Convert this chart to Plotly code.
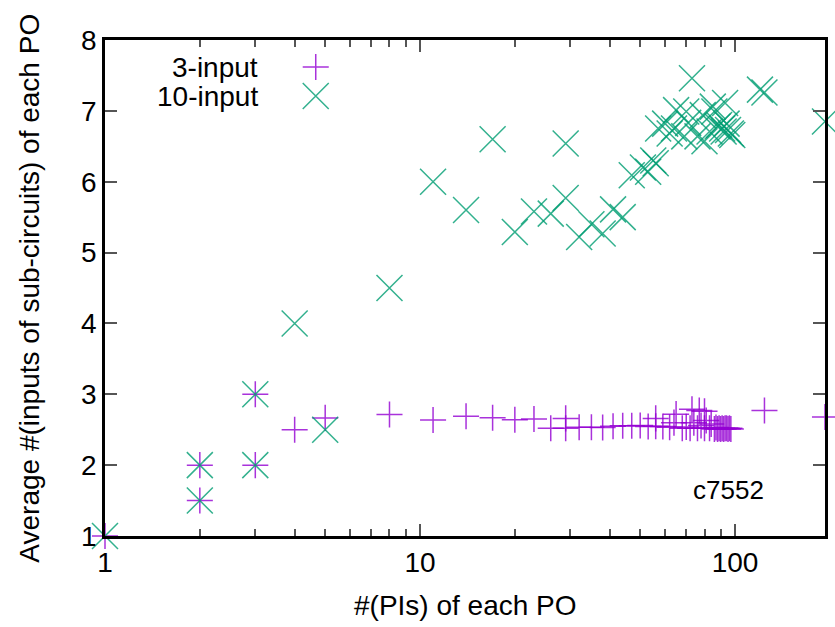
import plotly.graph_objects as go

# c7552: average number of sub-circuit inputs per primary output,
# against the number of primary inputs feeding that output
pi_3 = [1, 2, 2, 3, 3, 4, 5, 8, 11, 14, 17, 20, 23, 26, 29, 29, 32, 35, 38, 41,
        44, 47, 50, 53, 56, 56, 59, 62, 64, 65, 68, 70, 72, 73, 74, 76, 77, 78,
        80, 80, 81, 83, 84, 86, 87, 88, 89, 90, 91, 92, 93, 94, 95, 96, 97, 124, 193]
avg_3 = [1.0, 2.0, 1.5, 3.0, 2.0, 2.5, 2.667, 2.714, 2.636, 2.69, 2.67, 2.64, 2.65,
         2.52, 2.66, 2.52, 2.535, 2.535, 2.53, 2.55, 2.555, 2.555, 2.56, 2.545,
         2.66, 2.55, 2.545, 2.535, 2.6, 2.72, 2.52, 2.54, 2.52, 2.79, 2.6, 2.52,
         2.77, 2.56, 2.76, 2.52, 2.63, 2.52, 2.58, 2.51, 2.53, 2.51, 2.52, 2.51,
         2.52, 2.51, 2.52, 2.52, 2.51, 2.52, 2.51, 2.77, 2.68]

pi_10 = [1, 2, 2, 3, 3, 4, 5, 8, 11, 14, 17, 20, 23, 26, 29, 29, 32, 35, 38, 41,
         44, 47, 51, 53, 55, 56, 57, 60, 62, 64, 65, 69, 70, 71, 73, 76, 79, 80,
         83, 85, 86, 88, 89, 91, 92, 93, 94, 95, 97, 98, 120, 124, 193]
avg_10 = [1.0, 2.0, 1.5, 3.0, 2.0, 4.0, 2.5, 4.5, 6.0, 5.6, 6.6, 5.29, 5.58, 5.55,
          6.54, 5.77, 5.22, 5.4, 5.27, 5.61, 5.5, 6.09, 6.2, 6.14, 6.3, 6.26,
          6.75, 6.82, 6.68, 6.75, 7.01, 6.64, 6.99, 6.83, 7.46, 6.64, 6.94, 6.57,
          6.71, 7.06, 6.99, 6.78, 6.8, 6.75, 6.71, 7.11, 6.82, 6.73, 6.68, 6.66,
          7.3, 7.26, 6.85]

series_names = ["3-input", "10-input"]
purple = "#9400d3"
green = "#009e73"
font_family = "Liberation Sans, Arial, sans-serif"
# plotly draws cross-thin larger than x-thin at equal size, so the two
# symbols get separate sizes to come out the same width on screen
plus_size = 18.6
x_size = 26
mk_width = 1.5

fig = go.Figure()
fig.add_trace(go.Scatter(
    x=pi_3, y=avg_3, mode="markers", name=series_names[0], showlegend=False,
    cliponaxis=False,
    marker=dict(symbol="cross-thin", size=plus_size, opacity=0.8,
                line=dict(color=purple, width=mk_width)),
))
fig.add_trace(go.Scatter(
    x=pi_10, y=avg_10, mode="markers", name=series_names[1], showlegend=False,
    cliponaxis=False,
    marker=dict(symbol="x-thin", size=x_size, opacity=0.8,
                line=dict(color=green, width=mk_width)),
))

# key entries: label on the left, sample symbol on the right
key_rows = [0.9455, 0.887]
key_symbols = ["cross-thin", "x-thin"]
key_sizes = [plus_size, x_size]
key_colors = [purple, green]
for name, row, sym, sz, col in zip(series_names, key_rows, key_symbols, key_sizes, key_colors):
    fig.add_trace(go.Scatter(
        x=[0.2927], y=[row], xaxis="x2", yaxis="y2", mode="markers",
        showlegend=False, hoverinfo="skip", cliponaxis=False,
        marker=dict(symbol=sym, size=sz, opacity=0.8,
                    line=dict(color=col, width=mk_width)),
    ))
    fig.add_annotation(x=0.2155, y=row, xref="paper", yref="paper", text=name,
                       showarrow=False, xanchor="right", yanchor="middle",
                       font=dict(size=28, color="black", family=font_family))

fig.add_annotation(x=0.918, y=0.092, xref="paper", yref="paper", text="c7552",
                   showarrow=False, xanchor="right", yanchor="middle",
                   font=dict(size=26, color="black", family=font_family))
fig.add_annotation(x=0.5, y=-0.14, xref="paper", yref="paper", text="#(PIs) of each PO",
                   showarrow=False, xanchor="center", yanchor="middle",
                   font=dict(size=28, color="black", family=font_family))
fig.add_annotation(x=-0.106, y=0.5, xref="paper", yref="paper",
                   text="Average #(inputs of sub-circuits) of each PO",
                   showarrow=False, textangle=-90, xanchor="center", yanchor="middle",
                   font=dict(size=28, color="black", family=font_family))

axis_common = dict(showline=True, linecolor="black", linewidth=2.5, mirror="allticks",
                   ticks="inside", ticklen=12, tickwidth=1.5, tickcolor="#555",
                   showgrid=False, zeroline=False,
                   tickfont=dict(size=28, color="black", family=font_family))

fig.update_layout(
    width=835, height=627,
    margin=dict(l=105, r=7, t=40, b=91),
    paper_bgcolor="white", plot_bgcolor="white",
    xaxis=dict(type="log", range=[0, 2.2856], dtick=1,
               minor=dict(ticks="inside", ticklen=7, tickwidth=1.5, tickcolor="#555",
                          dtick="D1", showgrid=False),
               **axis_common),
    yaxis=dict(range=[1, 8], dtick=1, **axis_common),
    xaxis2=dict(range=[0, 1], overlaying="x", visible=False),
    yaxis2=dict(range=[0, 1], overlaying="y", visible=False),
)

fig.write_html("out.html")
